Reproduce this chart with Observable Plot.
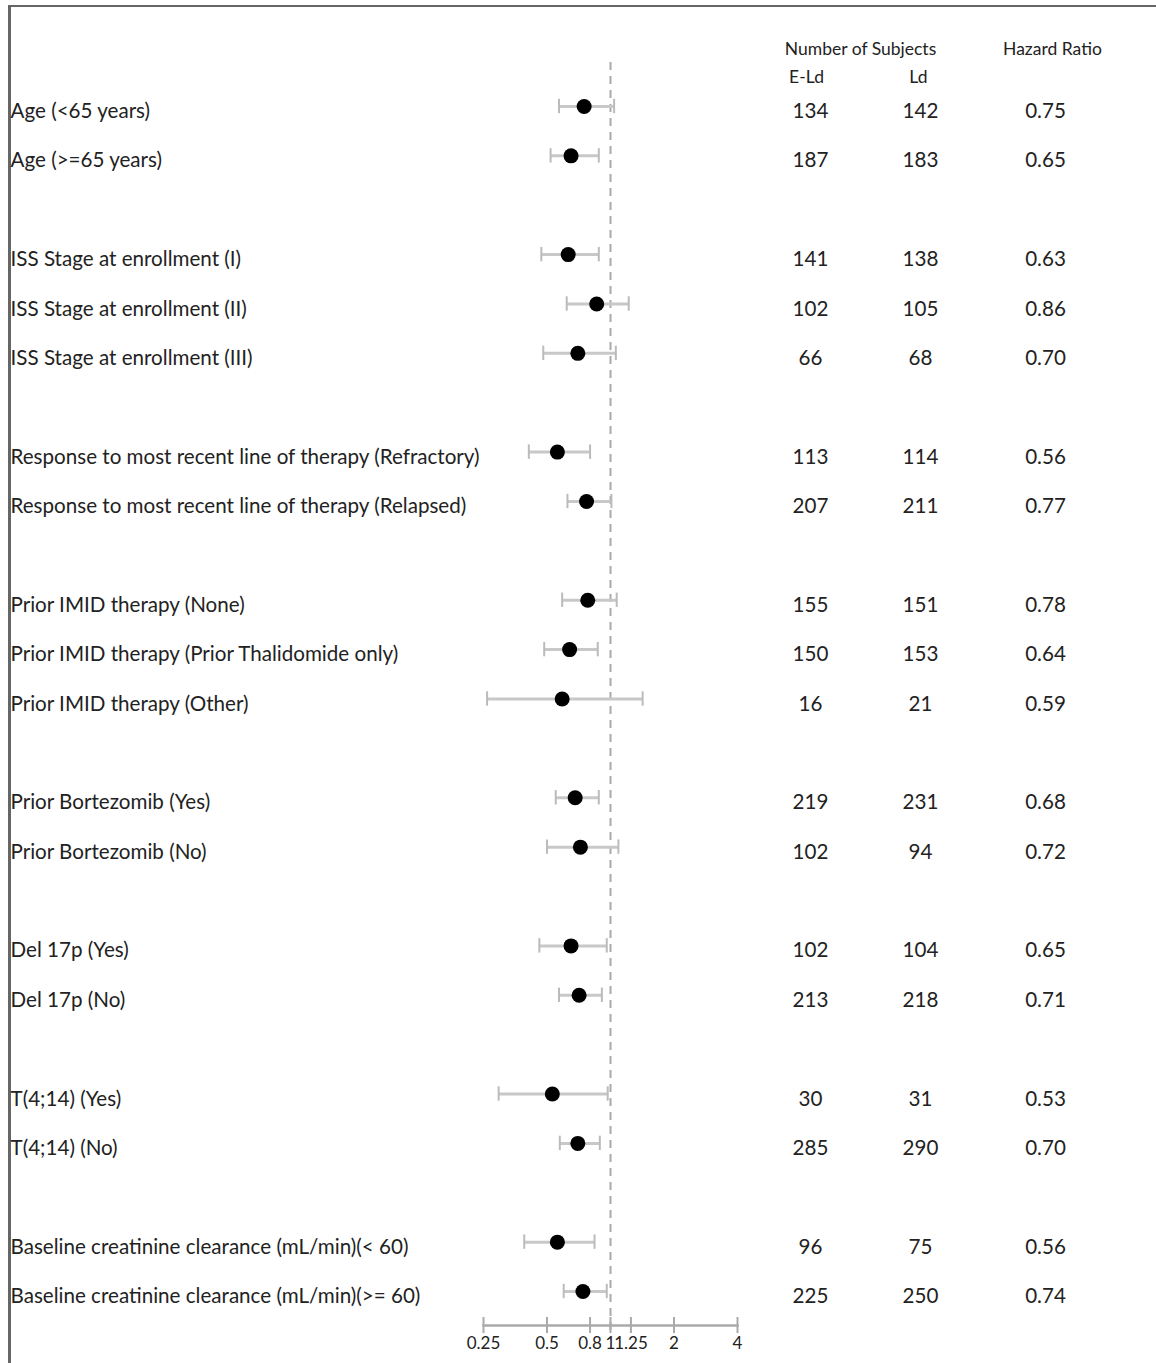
<!DOCTYPE html>
<html>
<head>
<meta charset="utf-8">
<script src="https://cdn.jsdelivr.net/npm/d3@7"></script>
<script src="https://cdn.jsdelivr.net/npm/@observablehq/plot@0.6"></script>
<style>
  html, body { margin: 0; padding: 0; background: #fff; }
  #page { position: relative; width: 1156px; height: 1363px; overflow: hidden; }
  #box { position: absolute; left: 8px; top: 5px; width: 1200px; height: 1400px;
         border-left: 3px solid #666; border-top: 2px solid #666; box-sizing: border-box; }
  #page svg { position: absolute; left: 0; top: 0; }
</style>
</head>
<body>
<div id="page"><div id="box"></div></div>
<script>
// Subgroup forest plot: E-Ld vs Ld hazard ratios with 95% CIs
const subgroups = [
  "Age (<65 years)",
  "Age (>=65 years)",
  "ISS Stage at enrollment (I)",
  "ISS Stage at enrollment (II)",
  "ISS Stage at enrollment (III)",
  "Response to most recent line of therapy (Refractory)",
  "Response to most recent line of therapy (Relapsed)",
  "Prior IMID therapy (None)",
  "Prior IMID therapy (Prior Thalidomide only)",
  "Prior IMID therapy (Other)",
  "Prior Bortezomib (Yes)",
  "Prior Bortezomib (No)",
  "Del 17p (Yes)",
  "Del 17p (No)",
  "T(4;14) (Yes)",
  "T(4;14) (No)",
  "Baseline creatinine clearance (mL/min)(< 60)",
  "Baseline creatinine clearance (mL/min)(>= 60)"
];
const groupOf = [0, 0, 1, 1, 1, 2, 2, 3, 3, 3, 4, 4, 5, 5, 6, 6, 7, 7];
const subjectsELd = [134, 187, 141, 102, 66, 113, 207, 155, 150, 16, 219, 102, 102, 213, 30, 285, 96, 225];
const subjectsLd = [142, 183, 138, 105, 68, 114, 211, 151, 153, 21, 231, 94, 104, 218, 31, 290, 75, 250];
const hazardRatio = [0.75, 0.65, 0.63, 0.86, 0.70, 0.56, 0.77, 0.78, 0.64, 0.59, 0.68, 0.72, 0.65, 0.71, 0.53, 0.70, 0.56, 0.74];
const ciLower = [0.57, 0.52, 0.47, 0.62, 0.48, 0.41, 0.625, 0.59, 0.485, 0.26, 0.55, 0.50, 0.46, 0.57, 0.295, 0.575, 0.39, 0.60];
const ciUpper = [1.04, 0.88, 0.88, 1.22, 1.06, 0.80, 1.01, 1.07, 0.87, 1.42, 0.88, 1.09, 0.96, 0.91, 0.97, 0.89, 0.84, 0.96];
const xTicks = [0.25, 0.5, 0.8, 1, 1.25, 2, 4];
const xTickLabels = ["0.25", "0.5", "0.8", "1", "1.25", "2", "4"];

const rows = subgroups.map((label, i) => ({
  key: "row" + i,
  label,
  group: groupOf[i],
  eld: subjectsELd[i],
  ld: subjectsLd[i],
  hr: hazardRatio[i],
  lo: ciLower[i],
  hi: ciUpper[i]
}));

// One band per row, with an empty band between subgroup families
const yDomain = [];
rows.forEach((r, i) => {
  if (i > 0 && r.group !== rows[i - 1].group) yDomain.push("gap" + r.group);
  yDomain.push(r.key);
});

const ticks = xTicks.map((v, i) => ({ v, label: xTickLabels[i] }));

const W = 1156, H = 1363;
const marginLeft = 483, marginRight = 419, marginTop = 62, marginBottom = 38;
const frameH = H - marginTop - marginBottom;
const textColor = "#222";
const fmtHR = d3.format(".2f");
const rowFont = 20.6, headFont = 17.5, rowDy = 5;

const chart = Plot.plot({
  width: W,
  height: H,
  marginLeft, marginRight, marginTop, marginBottom,
  style: { fontFamily: "Lato, 'Open Sans', sans-serif", color: textColor, background: "transparent" },
  x: { type: "log", domain: [0.25, 4], axis: null },
  y: { type: "band", domain: yDomain, padding: 0, round: false, insetTop: 19.3, insetBottom: 9.3, axis: null },
  marks: [
    // reference line at HR = 1
    Plot.ruleX([1], { stroke: "#aaa", strokeWidth: 2, strokeDasharray: "8,6", insetBottom: -8 }),
    // axis line, ticks and tick labels
    Plot.frame({ anchor: "bottom", stroke: "#aaa", strokeWidth: 2.5 }),
    Plot.ruleX(ticks, { x: "v", stroke: "#aaa", strokeWidth: 2, insetTop: frameH - 8, insetBottom: -8 }),
    Plot.text(ticks, { x: "v", text: "label", frameAnchor: "bottom", lineAnchor: "top", dy: 11, fontSize: 17, fill: textColor }),
    // confidence intervals
    Plot.ruleY(rows, { y: "key", x1: "lo", x2: "hi", stroke: "#c8c8c8", strokeWidth: 3 }),
    Plot.tickX(rows, { x: "lo", y: "key", stroke: "#bbb", strokeWidth: 2, insetTop: 17.5, insetBottom: 17.5 }),
    Plot.tickX(rows, { x: "hi", y: "key", stroke: "#bbb", strokeWidth: 2, insetTop: 17.5, insetBottom: 17.5 }),
    // point estimates
    Plot.dot(rows, { x: "hr", y: "key", r: 7.5, fill: "#000", stroke: "none" }),
    // subgroup labels
    Plot.text(rows, {
      y: "key", text: "label", frameAnchor: "left", textAnchor: "start",
      dx: -(marginLeft - 10), dy: rowDy, fontSize: rowFont, fill: textColor
    }),
    // number of subjects and hazard ratio columns
    Plot.text(rows, { y: "key", text: "eld", frameAnchor: "right", textAnchor: "middle", dx: 73, dy: rowDy, fontSize: rowFont, fill: textColor }),
    Plot.text(rows, { y: "key", text: "ld", frameAnchor: "right", textAnchor: "middle", dx: 183, dy: rowDy, fontSize: rowFont, fill: textColor }),
    Plot.text(rows, { y: "key", text: d => fmtHR(d.hr), frameAnchor: "right", textAnchor: "middle", dx: 308, dy: rowDy, fontSize: rowFont, fill: textColor }),
    // column headers
    Plot.text(["Number of Subjects"], { text: d => d, frameAnchor: "top-right", textAnchor: "middle", dx: 123, dy: -20, fontSize: headFont, fill: textColor }),
    Plot.text(["E-Ld"], { text: d => d, frameAnchor: "top-right", textAnchor: "middle", dx: 69, dy: 8, fontSize: headFont, fill: textColor }),
    Plot.text(["Ld"], { text: d => d, frameAnchor: "top-right", textAnchor: "middle", dx: 181, dy: 8, fontSize: headFont, fill: textColor }),
    Plot.text(["Hazard Ratio"], { text: d => d, frameAnchor: "top-right", textAnchor: "middle", dx: 315, dy: -20, fontSize: headFont, fill: textColor })
  ]
});

document.getElementById("page").appendChild(chart);
</script>
</body>
</html>
